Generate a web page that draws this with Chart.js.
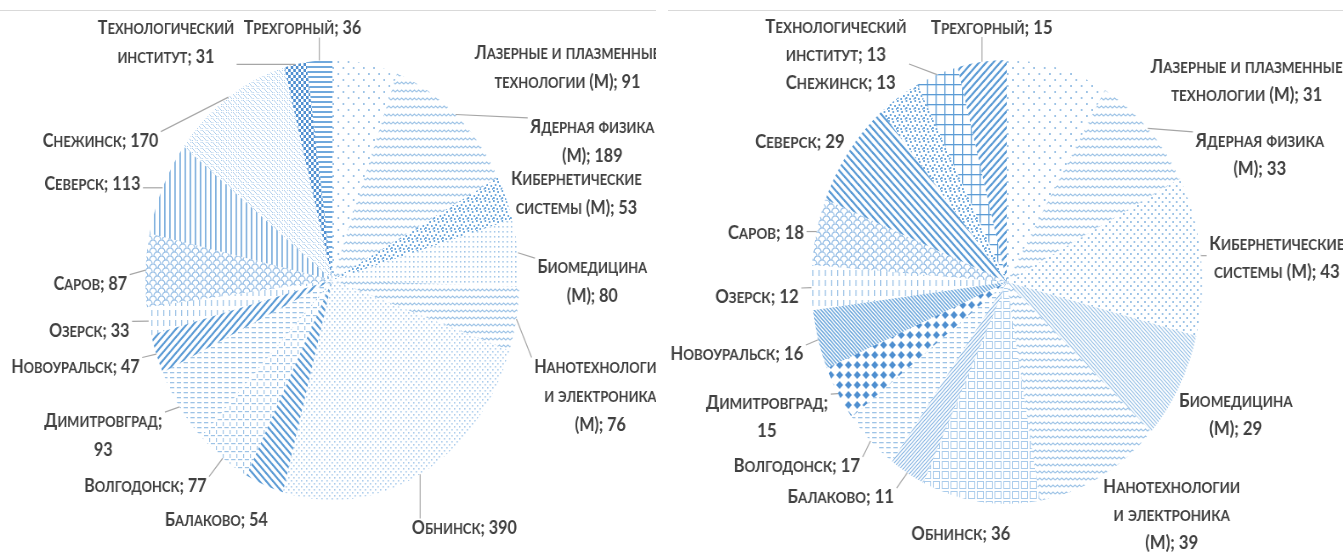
<!DOCTYPE html>
<html lang="ru">
<head>
<meta charset="utf-8">
<title>Распределение по направлениям и филиалам</title>
<script src="https://cdn.jsdelivr.net/npm/chart.js@4.4.1/dist/chart.umd.min.js"></script>
<style>
  html, body { margin: 0; padding: 0; background: #fff; }
  body { width: 1343px; height: 555px; position: relative; overflow: hidden; }
  .panel { position: absolute; top: 0; height: 555px; overflow: hidden; }
  .panel .rule { position: absolute; left: 0; right: 0; top: 10px; height: 1px; background: #d9d9d9; }
  .panel canvas { position: absolute; left: 0; top: 0; transform-origin: 0 0; }
  #p1 { left: 0; width: 656px; }
  #p2 { left: 668px; width: 675px; }
  #c1 { transform: scaleX(0.85); }
  #c2 { transform: scaleX(0.88); }
</style>
</head>
<body>
<div class="panel" id="p1"><div class="rule"></div><canvas id="c1" width="772" height="555"></canvas></div>
<div class="panel" id="p2"><div class="rule"></div><canvas id="c2" width="767" height="555"></canvas></div>

<script>
// категории (одинаковые для обеих диаграмм); массив = заданные переносы строк
const categories = [
  ['Лазерные и плазменные', 'технологии (М)'],
  ['Ядерная физика', '(М)'],
  ['Кибернетические', 'системы (М)'],
  ['Биомедицина', '(М)'],
  ['Нанотехнологии', 'и электроника', '(М)'],
  'Обнинск',
  'Балаково',
  'Волгодонск',
  'Димитровград',
  'Новоуральск',
  'Озерск',
  'Саров',
  'Северск',
  'Снежинск',
  ['Технологический', 'институт'],
  'Трехгорный'
];

const valuesLeft  = [91, 189, 53, 80, 76, 390, 54, 77, 93, 47, 33, 87, 113, 170, 31, 36];
const valuesRight = [31, 33, 43, 29, 39, 36, 11, 17, 15, 16, 12, 18, 29, 13, 13, 15];

// заливки секторов (узоры как в Excel)
const fillsLeft = ['sparseDots', 'wave', 'confetti', 'dotGrid', 'wave2', 'fineDots', 'diagDown', 'dashGrid',
  'dashH', 'diagUp', 'vertDash', 'scales', 'vert', 'lattice', 'checker', 'horiz'];
const fillsRight = ['sparseDots', 'wave', 'dots', 'fineDiagDown', 'wave2', 'squares', 'fineDiagUp', 'dashH',
  'diamonds', 'denseDiagDown', 'vertDash', 'scales', 'diagDown', 'confetti', 'grid', 'diagUp'];

// положение подписей: смещение от центра в долях радиуса
const labelPosLeft = [[1.257, -0.968], [1.39, -0.632], [1.305, -0.395], [1.39, 0.005], [1.433, 0.523],
  [0.706, 1.123], [-0.62, 1.086], [-1.0, 0.932], [-1.225, 0.705], [-1.374, 0.391], [-1.30, 0.227],
  [-1.294, 0.014], [-1.283, -0.441], [-1.24, -0.636], [-0.89, -1.082], [-0.16, -1.15]];
const labelPosRight = [[1.228, -0.91], [1.295, -0.577], [1.382, -0.113], [1.172, 0.595], [0.844, 1.045],
  [-0.235, 1.131], [-0.85, 0.964], [-1.075, 0.824], [-1.228, 0.604], [-1.382, 0.32], [-1.279, 0.063],
  [-1.233, -0.225], [-1.059, -0.635], [-0.85, -0.90], [-0.875, -1.09], [-0.077, -1.149]];

// линии выноски
const leaderLeft  = [0, 1, 0, 1, 1, 1, 0, 1, 1, 1, 1, 1, 1, 1, 1, 1];
const leaderRight = [0, 1, 1, 0, 0, 0, 1, 1, 1, 1, 1, 1, 0, 0, 1, 1];

// 🔹 Узоры
function makePattern(kind) {
  const c = document.createElement('canvas');
  const g = c.getContext('2d');
  const light = '#9dc3e6', mid = '#6fa8dc', strong = '#4f8fd0';
  const size = (w, h) => { c.width = w; c.height = h || w; };
  const line = (x1, y1, x2, y2, col, lw) => {
    g.strokeStyle = col; g.lineWidth = lw; g.beginPath(); g.moveTo(x1, y1); g.lineTo(x2, y2); g.stroke();
  };
  switch (kind) {
    case 'sparseDots':
      size(12); g.fillStyle = light; g.fillRect(1, 1, 2, 2); g.fillRect(7, 7, 2, 2); break;
    case 'dots':
      size(8); g.fillStyle = light; g.fillRect(1, 1, 2, 2); g.fillRect(5, 5, 2, 2); break;
    case 'wave':
    case 'wave2':
      size(10, kind === 'wave' ? 8 : 7);
      g.strokeStyle = light; g.lineWidth = 1.2; g.beginPath();
      g.moveTo(0, 4); g.lineTo(2.5, 2); g.lineTo(5, 4); g.lineTo(7.5, 2); g.lineTo(10, 4); g.stroke(); break;
    case 'confetti':
      size(10); g.fillStyle = mid;
      [[0, 0], [5, 1], [2, 4], [7, 5], [4, 8], [9, 8], [0, 7]].forEach(p => g.fillRect(p[0], p[1], 2, 2)); break;
    case 'dotGrid':
      size(5); g.fillStyle = light; g.fillRect(1, 1, 1.6, 1.6); break;
    case 'fineDots':
      size(6); g.fillStyle = '#a9cbeb'; g.fillRect(0, 0, 1.6, 1.6); g.fillRect(3, 3, 1.6, 1.6); break;
    case 'dashH':
      size(8, 5); g.fillStyle = light; g.fillRect(0, 2, 5, 1.3); break;
    case 'dashGrid':
      size(8); g.fillStyle = light; g.fillRect(0, 3, 5, 1.2); g.fillRect(6, 0, 1.2, 2); g.fillRect(6, 6, 1.2, 2); break;
    case 'diagDown':
      size(8); line(-1, -1, 9, 9, '#5b9bd5', 2.2); line(-1, 7, 1, 9, '#5b9bd5', 2.2); line(7, -1, 9, 1, '#5b9bd5', 2.2); break;
    case 'diagUp':
      size(8); line(-1, 9, 9, -1, '#5b9bd5', 2.2); line(-1, 1, 1, -1, '#5b9bd5', 2.2); line(7, 9, 9, 7, '#5b9bd5', 2.2); break;
    case 'fineDiagDown':
      size(4); line(-1, -1, 5, 5, '#9dc3e6', 1.2); line(-1, 3, 1, 5, '#9dc3e6', 1.2); line(3, -1, 5, 1, '#9dc3e6', 1.2); break;
    case 'denseDiagDown':
      size(4); line(-1, -1, 5, 5, '#6fa8dc', 1.5); line(-1, 3, 1, 5, '#6fa8dc', 1.5); line(3, -1, 5, 1, '#6fa8dc', 1.5); break;
    case 'fineDiagUp':
      size(4); line(-1, 5, 5, -1, '#8db8e3', 1.2); line(-1, 1, 1, -1, '#8db8e3', 1.2); line(3, 5, 5, 3, '#8db8e3', 1.2); break;
    case 'vertDash':
      size(7, 10); g.fillStyle = light; g.fillRect(3, 0, 1.3, 6); break;
    case 'scales':
      size(10, 8); g.strokeStyle = '#8db8e3'; g.lineWidth = 1.2;
      g.beginPath(); g.arc(5, 8, 4, Math.PI, 2 * Math.PI); g.stroke();
      g.beginPath(); g.arc(0, 4, 4, Math.PI, 2 * Math.PI); g.stroke();
      g.beginPath(); g.arc(10, 4, 4, Math.PI, 2 * Math.PI); g.stroke(); break;
    case 'vert':
      size(6); g.fillStyle = '#7fb0de'; g.fillRect(1, 0, 1.8, 6); break;
    case 'lattice':
      size(6); g.fillStyle = '#a9cbeb';
      [[0, 0], [1, 1], [2, 2], [4, 4], [5, 5], [4, 2], [2, 4]].forEach(p => g.fillRect(p[0], p[1], 1, 1)); break;
    case 'checker':
      size(6); g.fillStyle = strong; g.fillRect(0, 0, 3, 3); g.fillRect(3, 3, 3, 3); break;
    case 'horiz':
      size(5); g.fillStyle = '#6fa8dc'; g.fillRect(0, 1, 5, 2); break;
    case 'squares':
      size(10); g.strokeStyle = '#a9cbeb'; g.lineWidth = 1; g.strokeRect(1.5, 1.5, 7, 7); break;
    case 'diamonds':
      size(10); g.fillStyle = strong; g.beginPath();
      g.moveTo(5, 1); g.lineTo(9, 5); g.lineTo(5, 9); g.lineTo(1, 5); g.closePath(); g.fill(); break;
    case 'grid':
      size(10); g.fillStyle = '#5b9bd5'; g.fillRect(0, 4, 10, 1.3); g.fillRect(4, 0, 1.3, 10); break;
    default:
      size(4); g.fillStyle = light; g.fillRect(0, 0, 4, 4);
  }
  return g.createPattern(c, 'repeat');
}

// 🔹 Капитель: строчные буквы рисуются прописными меньшего кегля
function capsRuns(text) {
  const runs = [];
  for (const ch of text) {
    const small = ch !== ch.toUpperCase();
    const last = runs[runs.length - 1];
    if (last && last.small === small) last.t += ch.toUpperCase();
    else runs.push({ t: ch.toUpperCase(), small: small });
  }
  return runs;
}

function capsFont(cfg, small) {
  const px = small ? cfg.size * cfg.smallRatio : cfg.size;
  return 'bold ' + px + 'px Lato, "Open Sans", sans-serif';
}

function capsWidth(ctx, cfg, text) {
  let w = 0;
  capsRuns(text).forEach(r => { ctx.font = capsFont(cfg, r.small); w += ctx.measureText(r.t).width; });
  return w;
}

function capsText(ctx, cfg, text, cx, baseline) {
  let x = cx - capsWidth(ctx, cfg, text) / 2;
  capsRuns(text).forEach(r => {
    ctx.font = capsFont(cfg, r.small);
    ctx.fillText(r.t, x, baseline);
    x += ctx.measureText(r.t).width;
  });
}

// 🔹 Строки подписи: «категория; значение»
function labelLines(ctx, cfg, cat, val) {
  if (Array.isArray(cat)) {
    const l = cat.slice();
    l[l.length - 1] += '; ' + val;
    return l;
  }
  const full = cat + '; ' + val;
  if (capsWidth(ctx, cfg, full) > cfg.wrap) return [cat + ';', String(val)];
  return [full];
}

// 🔹 Подписи данных с выносками
function makeLabelPlugin(cfg) {
  return {
    id: 'pieLabels',
    afterDatasetsDraw(chart) {
      const ctx = chart.ctx;
      const meta = chart.getDatasetMeta(0);
      const values = chart.data.datasets[0].data;
      ctx.save();
      ctx.textAlign = 'left';
      ctx.textBaseline = 'alphabetic';
      meta.data.forEach((arc, i) => {
        const p = arc.getProps(['x', 'y', 'startAngle', 'endAngle', 'outerRadius'], true);
        const midA = (p.startAngle + p.endAngle) / 2;
        const ex = p.x + Math.cos(midA) * p.outerRadius;
        const ey = p.y + Math.sin(midA) * p.outerRadius;
        const lines = labelLines(ctx, cfg, categories[i], values[i]);
        const lx = p.x + cfg.pos[i][0] * p.outerRadius;
        const ly = p.y + cfg.pos[i][1] * p.outerRadius;
        const h = lines.length * cfg.lh;
        const w = Math.max(...lines.map(t => capsWidth(ctx, cfg, t)));

        if (cfg.leader[i]) {
          const bx0 = lx - w / 2 - 3, bx1 = lx + w / 2 + 3;
          const by0 = ly - h / 2 + 6, by1 = ly + h / 2 - 4;
          const px = Math.min(Math.max(ex, bx0), bx1);
          const py = Math.min(Math.max(ey, by0), by1);
          ctx.strokeStyle = '#a6a6a6';
          ctx.lineWidth = 1.2;
          ctx.beginPath();
          ctx.moveTo(px, py);
          ctx.lineTo(ex, ey);
          ctx.stroke();
        }

        ctx.fillStyle = '#404040';
        lines.forEach((t, k) => {
          const midY = ly - h / 2 + cfg.lh * (k + 0.5);
          capsText(ctx, cfg, t, lx, midY + cfg.size * 0.36);
        });
      });
      ctx.restore();
    }
  };
}

// 🔹 Круговая диаграмма
function drawPie(id, values, fills, cfg, padding) {
  const ctx = document.getElementById(id).getContext('2d');
  return new Chart(ctx, {
    type: 'pie',
    data: {
      labels: categories.map(c => Array.isArray(c) ? c.join(' ') : c),
      datasets: [{
        data: values,
        backgroundColor: fills.map(makePattern),
        borderWidth: 0
      }]
    },
    options: {
      responsive: false,
      animation: false,
      layout: { padding: padding },
      plugins: {
        legend: { display: false },
        tooltip: { enabled: false }
      }
    },
    plugins: [makeLabelPlugin(cfg)]
  });
}

drawPie('c1', valuesLeft, fillsLeft,
  { pos: labelPosLeft, leader: leaderLeft, wrap: 158, size: 19, smallRatio: 0.8, lh: 29 },
  { left: 171, right: 161, top: 60, bottom: 55 });

drawPie('c2', valuesRight, fillsRight,
  { pos: labelPosRight, leader: leaderRight, wrap: 158, size: 19, smallRatio: 0.8, lh: 28 },
  { left: 163, right: 160, top: 60, bottom: 51 });
</script>
</body>
</html>
